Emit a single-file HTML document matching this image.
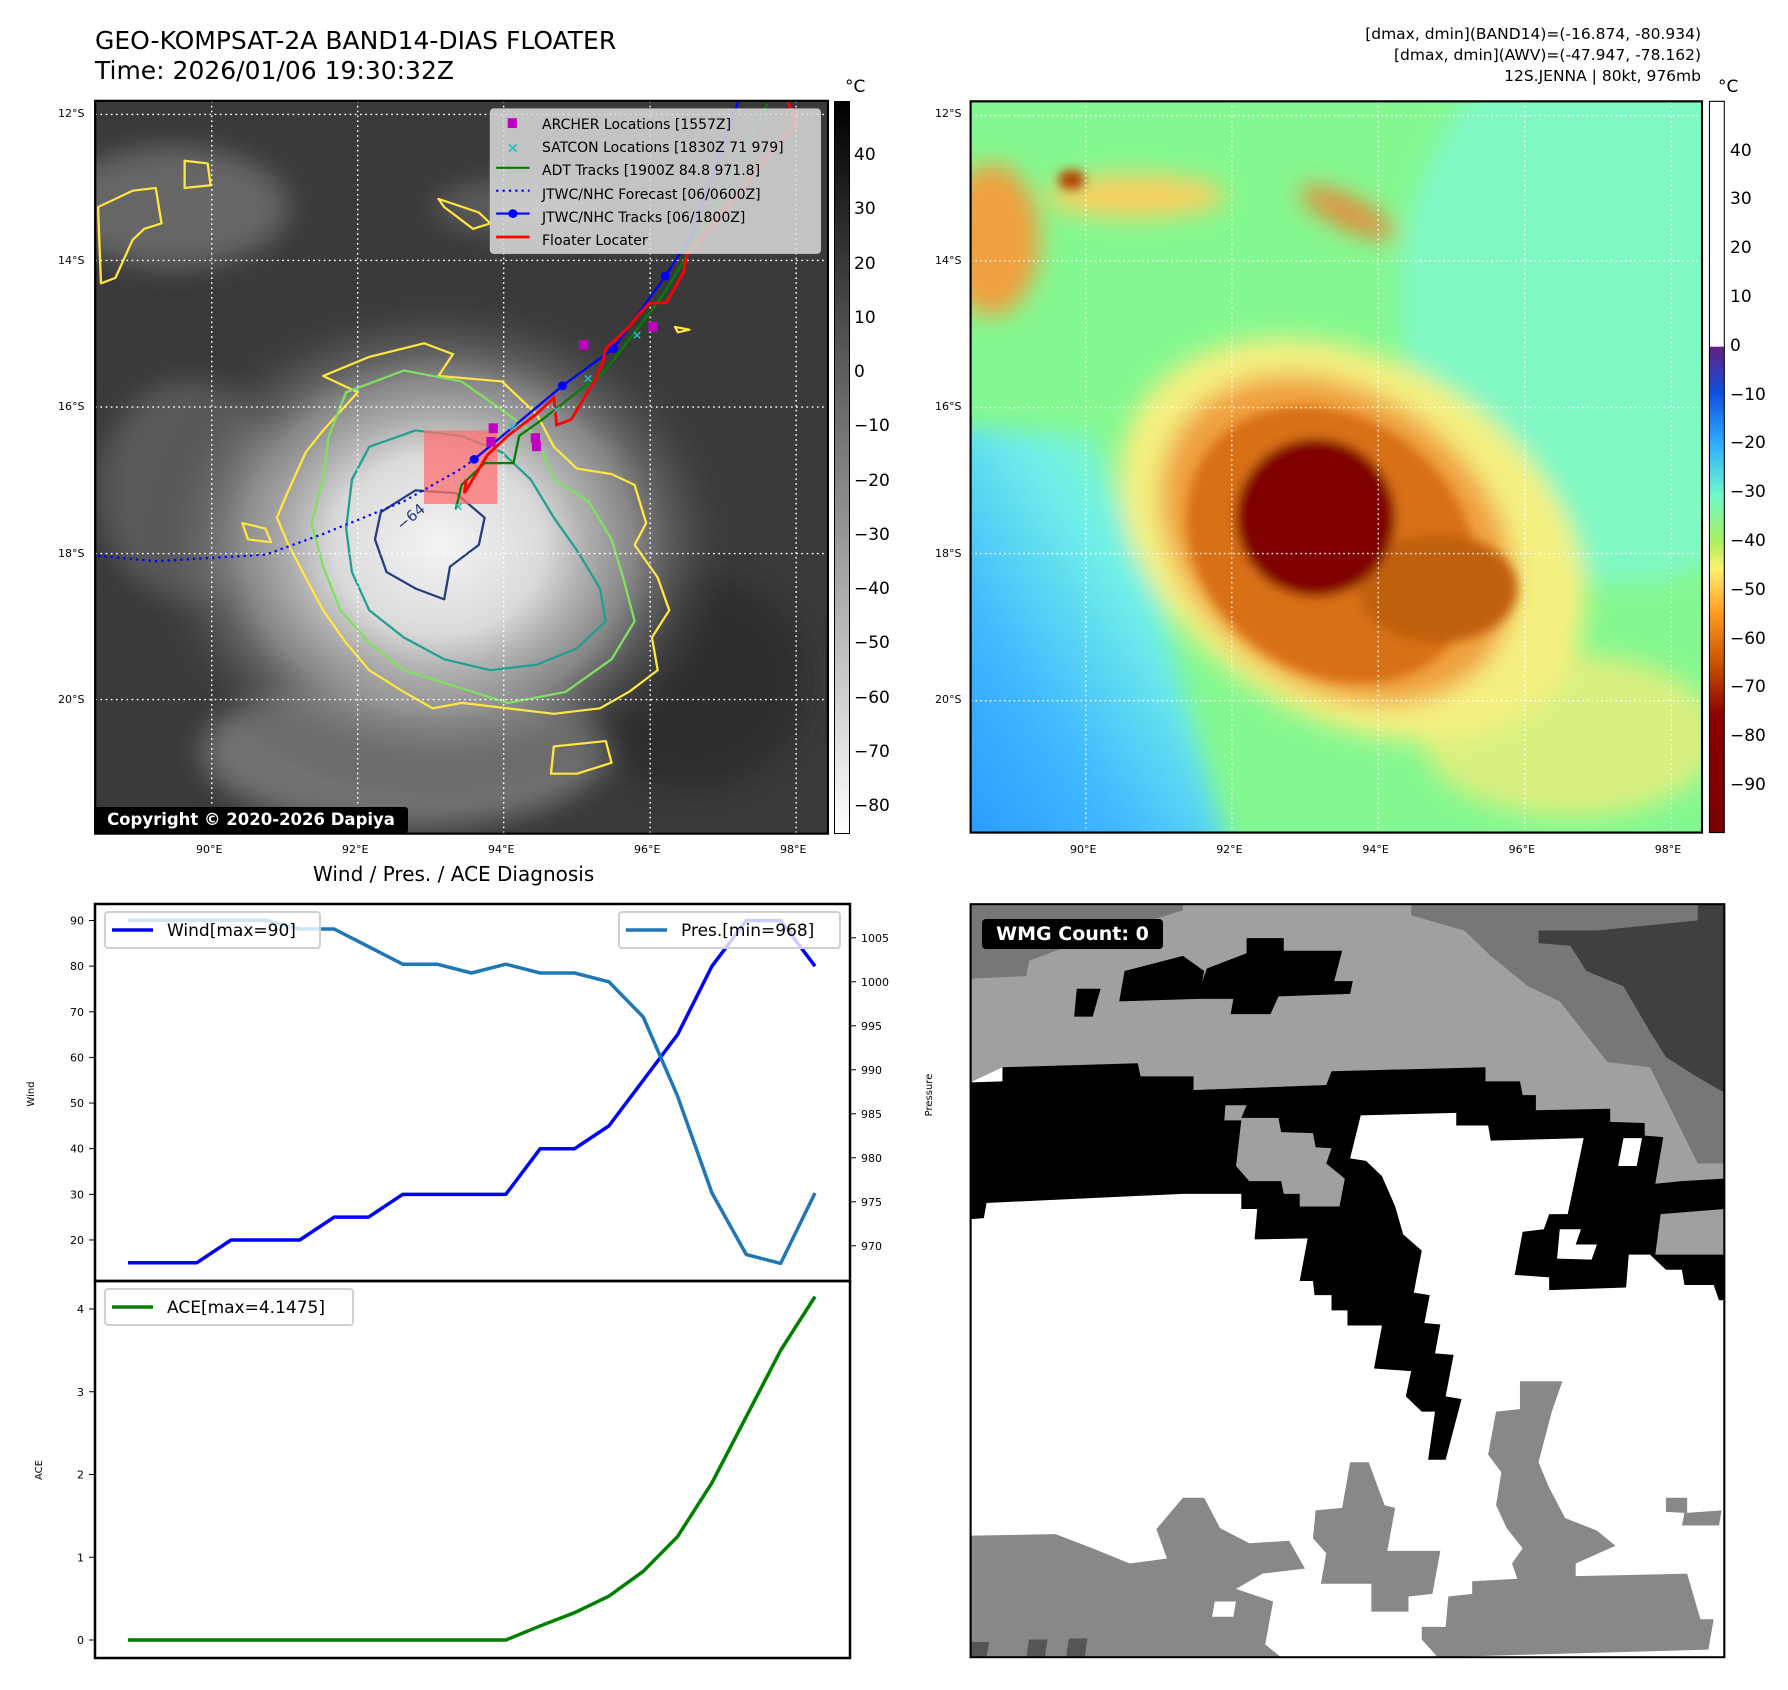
<!DOCTYPE html>
<html><head><meta charset="utf-8">
<style>
body{margin:0;background:#fff;width:1788px;height:1690px;position:relative;overflow:hidden;font-family:"DejaVu Sans","Liberation Sans",sans-serif;color:#000}
.a{position:absolute;white-space:nowrap}
.t{font-size:11px}
.cb{font-size:17px}
</style></head><body>
<div class="a" style="left:95px;top:26px;font-size:25px;line-height:30px">GEO-KOMPSAT-2A BAND14-DIAS FLOATER<br>Time: 2026/01/06 19:30:32Z</div>
<div class="a" style="right:87px;top:24px;font-size:15.5px;line-height:21px;text-align:right">[dmax, dmin](BAND14)=(-16.874, -80.934)<br>[dmax, dmin](AWV)=(-47.947, -78.162)<br>12S.JENNA | 80kt, 976mb</div>

<!-- LEFT MAP -->
<svg class="a" style="left:0;top:0" width="900" height="850" viewBox="0 0 1560 1560" preserveAspectRatio="none">
<defs>
<radialGradient id="storm" cx="0.5" cy="0.5" r="0.5"><stop offset="0" stop-color="#f4f4f4"/><stop offset="0.35" stop-color="#dadada"/><stop offset="0.65" stop-color="#9a9a9a" stop-opacity="0.8"/><stop offset="1" stop-color="#3c3c3c" stop-opacity="0"/></radialGradient>
<filter id="bl" x="-20%" y="-20%" width="140%" height="140%"><feGaussianBlur stdDeviation="25"/></filter>
<clipPath id="c1"><rect x="165" y="185" width="1270" height="1345"/></clipPath>
</defs>
<g clip-path="url(#c1)">
<rect x="165" y="185" width="1270" height="1345" fill="#3a3a3a"/>
<g filter="url(#bl)" opacity="0.7">
<ellipse cx="300" cy="380" rx="200" ry="110" fill="#7a7a7a"/>
<ellipse cx="900" cy="380" rx="150" ry="50" fill="#6a6a6a"/>
<ellipse cx="330" cy="900" rx="160" ry="200" fill="#686868"/>
<ellipse cx="700" cy="1380" rx="350" ry="140" fill="#8a8a8a"/>
<ellipse cx="1200" cy="1250" rx="200" ry="200" fill="#2c2c2c"/>
</g>
<ellipse cx="760" cy="1000" rx="520" ry="470" fill="url(#storm)"/>
<g fill="none" stroke-width="4" stroke-linejoin="round">
<path stroke="#ffe640" d="M560,690 L640,655 L735,630 L785,650 L760,690 L870,700 L930,760 L960,820 L1000,860 L1060,870 L1100,890 L1120,960 L1100,1000 L1140,1060 L1160,1120 L1130,1170 L1140,1230 L1090,1270 L1040,1300 L960,1310 L880,1300 L800,1290 L750,1300 L700,1270 L640,1230 L600,1180 L560,1120 L530,1060 L500,1000 L480,950 L500,900 L530,830 L560,790 L620,720 Z M420,960 L460,970 L470,995 L430,990 Z M960,1370 L1050,1360 L1060,1400 L1000,1420 L955,1420 Z M320,295 L360,300 L365,340 L320,345 Z M230,350 L270,345 L280,410 L250,420 L230,440 L200,510 L175,520 L170,380 Z M760,365 L830,390 L850,410 L820,420 L770,380 Z M1170,600 L1195,605 L1175,610 Z"/>
<path stroke="#80e060" d="M600,720 L700,680 L800,700 L880,760 L930,800 L960,880 L1020,920 L1060,990 L1080,1060 L1100,1140 L1060,1210 L980,1270 L880,1290 L790,1260 L700,1230 L640,1180 L590,1120 L560,1040 L540,960 L560,880 L570,800 Z"/>
<path stroke="#20a090" d="M640,820 L720,790 L800,800 L870,830 L920,880 L960,950 L1000,1010 L1040,1080 L1050,1140 L1000,1190 L930,1220 L850,1230 L770,1210 L700,1170 L640,1120 L610,1050 L600,970 L610,880 Z"/>
<path stroke="#283c80" d="M660,940 L720,900 L790,905 L840,950 L830,1000 L780,1040 L770,1100 L720,1080 L670,1050 L650,990 Z"/>
</g>
<g stroke="#fff" stroke-width="2.5" stroke-dasharray="3,6" fill="none">
<path d="M367,185V1530M620,185V1530M873,185V1530M1127,185V1530M1380,185V1530M165,210H1435M165,478H1435M165,747H1435M165,1016H1435M165,1284H1435"/>
</g>
<rect x="735" y="790" width="127" height="135" fill="#ff7070" opacity="0.75"/>
<polyline points="170,1020 270,1030 460,1018 560,980 700,920 800,860 822,843" fill="none" stroke="#0000ff" stroke-width="4" stroke-dasharray="4,7"/>
<polyline points="790,935 800,890 840,850 890,850 900,800 940,770 1000,720 1050,680 1100,610 1150,540 1190,470 1230,400 1330,190" fill="none" stroke="#008000" stroke-width="4"/>
<polyline points="822,843 975,708 1063,640 1153,507 1200,430 1280,185" fill="none" stroke="#0000ff" stroke-width="4"/>
<g fill="#0000ff"><circle cx="822" cy="843" r="8"/><circle cx="975" cy="708" r="8"/><circle cx="1063" cy="640" r="8"/><circle cx="1153" cy="507" r="8"/></g>
<polyline points="808,880 805,905 845,835 880,800 930,760 960,730 965,780 990,770 1030,700 1045,665 1050,640 1090,600 1105,580 1125,557 1155,555 1185,500 1190,470 1380,225 1365,185" fill="none" stroke="#ff0000" stroke-width="5"/>
<g fill="#c000c0"><rect x="847" y="777" width="16" height="18"/><rect x="843" y="802" width="16" height="18"/><rect x="920" y="795" width="16" height="18"/><rect x="922" y="810" width="16" height="18"/><rect x="1004" y="624" width="16" height="18"/><rect x="1124" y="591" width="16" height="18"/></g>
<g fill="#20c0c0" font-size="22" font-weight="bold"><text x="1095" y="622">×</text><text x="1010" y="702">×</text><text x="955" y="760">×</text><text x="880" y="790">×</text><text x="785" y="937">×</text></g>
</g>
<rect x="165" y="185" width="1270" height="1345" fill="none" stroke="#000" stroke-width="4"/>
<g>
<rect x="850" y="200" width="572" height="265" rx="6" fill="#dcdcdc" fill-opacity="0.85" stroke="#c8c8c8" stroke-width="2"/>
<rect x="880" y="217" width="16" height="18" fill="#c000c0"/>
<text x="878" y="280" fill="#20c0c0" font-size="26" font-weight="bold">×</text>
<line x1="860" y1="308" x2="918" y2="308" stroke="#008000" stroke-width="4"/>
<line x1="860" y1="350" x2="918" y2="350" stroke="#0000ff" stroke-width="4" stroke-dasharray="4,7"/>
<line x1="860" y1="392" x2="918" y2="392" stroke="#0000ff" stroke-width="4"/><circle cx="889" cy="392" r="8" fill="#0000ff"/>
<line x1="860" y1="435" x2="918" y2="435" stroke="#ff0000" stroke-width="5"/>
</g>
</svg>
<div class="a" style="left:542px;top:114px;font-size:14px;line-height:23.2px">ARCHER Locations [1557Z]<br>SATCON Locations [1830Z 71 979]<br>ADT Tracks [1900Z 84.8 971.8]<br>JTWC/NHC Forecast [06/0600Z]<br>JTWC/NHC Tracks [06/1800Z]<br>Floater Locater</div>
<div class="a" style="left:395px;top:508px;font-size:15px;color:#283c80;transform:rotate(-40deg)">−64</div>
<div class="a" style="left:94px;top:807px;width:314px;height:26px;background:#000;color:#fff;font-weight:bold;font-size:16.5px;line-height:26px;border-radius:3px;text-align:center">Copyright © 2020-2026 Dapiya</div>
<div class="a" style="left:834px;top:101px;width:14px;height:731px;border:1px solid #000;background:linear-gradient(#000,#fff)"></div>
<div class="a cb" style="left:845px;top:77px">°C</div>
<div id="lcb"></div>
<div id="maplabels"></div>

<!-- RIGHT MAP -->
<svg class="a" style="left:960px;top:0" width="828" height="850" viewBox="0 0 1560 1560" preserveAspectRatio="none">
<defs>
<filter id="bl2" x="-30%" y="-30%" width="160%" height="160%"><feGaussianBlur stdDeviation="22"/></filter>
<filter id="bl3" x="-30%" y="-30%" width="160%" height="160%"><feGaussianBlur stdDeviation="10"/></filter>
<linearGradient id="blue" x1="0" y1="1" x2="0.8" y2="0.2"><stop offset="0" stop-color="#2090ff"/><stop offset="0.45" stop-color="#40b8ff"/><stop offset="0.8" stop-color="#70f0e8"/><stop offset="1" stop-color="#80f8c0"/></linearGradient>
<linearGradient id="rcb" x1="0" y1="0" x2="0" y2="1"><stop offset="0" stop-color="#fff"/><stop offset="0.335" stop-color="#fff"/><stop offset="0.336" stop-color="#602080"/><stop offset="0.40" stop-color="#1050e0"/><stop offset="0.47" stop-color="#30b0ff"/><stop offset="0.54" stop-color="#70f8c8"/><stop offset="0.60" stop-color="#a8f060"/><stop offset="0.64" stop-color="#fff070"/><stop offset="0.70" stop-color="#ff9a20"/><stop offset="0.77" stop-color="#c85000"/><stop offset="0.84" stop-color="#8a0000"/><stop offset="1" stop-color="#7a0000"/></linearGradient>
<clipPath id="c2"><rect x="20" y="186" width="1378" height="1342"/></clipPath>
</defs>
<g clip-path="url(#c2)">
<rect x="20" y="186" width="1378" height="1342" fill="#84f890"/>
<g filter="url(#bl2)">
<ellipse cx="1250" cy="550" rx="420" ry="520" fill="#80f8c4"/>
<path d="M-60,780 L250,800 L360,1050 L430,1300 L520,1600 L-60,1600 Z" fill="url(#blue)"/>
<ellipse cx="1150" cy="1350" rx="280" ry="150" fill="#d8f080"/>
<ellipse cx="60" cy="440" rx="90" ry="140" fill="#f0a040"/>
<ellipse cx="330" cy="360" rx="170" ry="40" fill="#f8d060"/>
<ellipse cx="730" cy="390" rx="100" ry="30" fill="#e09040" transform="rotate(25 730 390)"/>
<ellipse cx="740" cy="990" rx="470" ry="330" fill="#f4f080" transform="rotate(30 740 990)"/>
<ellipse cx="710" cy="990" rx="360" ry="270" fill="#f0a040" transform="rotate(35 710 990)"/>
</g>
<g filter="url(#bl3)">
<ellipse cx="700" cy="1000" rx="290" ry="235" fill="#d87018" transform="rotate(35 700 1000)"/>
<ellipse cx="900" cy="1080" rx="150" ry="100" fill="#c06010"/>
<ellipse cx="670" cy="950" rx="150" ry="145" fill="#800000"/>
<ellipse cx="210" cy="330" rx="25" ry="18" fill="#b04000"/>
</g>
</g>
<g stroke="#fff" stroke-width="2.5" stroke-dasharray="3,6" fill="none">
<path d="M237,186V1528M512,186V1528M788,186V1528M1064,186V1528M1340,186V1528M20,212H1398M20,479H1398M20,748H1398M20,1016H1398M20,1286H1398"/>
</g>
<rect x="20" y="186" width="1378" height="1342" fill="none" stroke="#000" stroke-width="4"/>
<rect x="1412" y="186" width="28" height="1342" fill="url(#rcb)" stroke="#000" stroke-width="2"/>
</svg>
<div class="a cb" style="left:1718px;top:77px">°C</div>
<div id="rcbl"></div>

<!-- WMG PANEL -->
<svg class="a" style="left:960px;top:890px" width="828" height="790" viewBox="0 0 1560 1560" preserveAspectRatio="none">
<rect x="20" y="28" width="1420" height="1487" fill="#fff"/>
<path fill="#a0a0a0" d="M20,28 L1440,28 L1440,650 L1320,650 L1290,485 L1225,458 L1085,435 L1060,405 L990,378 L700,358 L690,385 L440,395 L340,368 L80,350 L20,380 Z"/>
<path fill="#777" d="M20,28 L420,28 L420,40 L180,120 L130,140 L125,170 L20,175 Z M850,28 L1440,28 L1440,540 L1390,540 L1300,350 L1220,340 L1130,220 L1070,190 L1000,130 L950,80 L850,50 Z"/>
<path fill="#404040" d="M1090,80 L1200,80 L1390,60 L1390,28 L1440,28 L1440,400 L1390,370 L1330,330 L1300,280 L1250,190 L1180,160 L1150,110 L1090,105 Z"/>
<path fill="#000" d="M20,380 L80,378 L80,350 L335,342 L340,368 L440,368 L440,395 L690,385 L700,358 L990,350 L990,378 L1055,378 L1060,405 L1085,405 L1085,435 L1225,432 L1225,458 L1290,460 L1290,485 L1325,488 L1310,580 L1360,575 L1440,570 L1440,810 L1430,810 L1420,780 L1365,780 L1360,750 L1330,750 L1300,720 L1260,720 L1255,785 L1110,790 L1110,765 L1045,760 L1060,675 L1100,670 L1110,640 L1145,640 L1175,490 L1000,495 L995,465 L935,465 L935,440 L755,445 L735,530 L765,535 L795,565 L820,625 L835,680 L870,712 L855,795 L885,800 L875,855 L905,858 L895,915 L930,918 L915,1000 L945,1005 L915,1125 L882,1125 L895,1030 L870,1030 L840,1000 L850,950 L780,945 L795,860 L730,860 L730,830 L700,830 L700,800 L668,800 L665,772 L640,772 L655,688 L555,690 L560,630 L530,630 L530,600 L420,600 L50,618 L45,648 L20,650 Z"/>
<path fill="#a0a0a0" d="M500,425 L540,425 L530,450 L600,450 L605,478 L665,480 L670,508 L700,510 L690,540 L725,570 L715,625 L640,625 L640,600 L610,600 L605,575 L545,575 L520,545 L530,455 L498,455 Z M1320,640 L1440,630 L1440,720 L1310,720 Z"/>
<path fill="#fff" d="M1250,490 L1285,490 L1275,545 L1240,545 Z M1130,670 L1170,670 L1160,700 L1200,700 L1190,730 L1125,728 Z"/>
<path fill="#000" d="M220,195 L265,195 L250,250 L215,250 Z M310,160 L420,130 L460,160 L450,215 L300,220 Z M540,95 L610,95 L610,120 L720,120 L705,180 L740,180 L735,205 L600,210 L585,245 L510,245 L515,215 L445,215 L465,155 L540,125 Z"/>
<path fill="#888" d="M20,1275 L180,1272 L250,1300 L320,1330 L390,1320 L370,1262 L420,1200 L460,1200 L490,1260 L545,1290 L620,1285 L650,1340 L570,1350 L520,1380 L590,1405 L575,1490 L605,1515 L20,1515 Z M735,1130 L770,1130 L800,1215 L820,1220 L805,1305 L905,1305 L890,1390 L845,1395 L845,1425 L775,1425 L775,1370 L680,1370 L690,1310 L665,1280 L670,1225 L720,1220 Z M1055,970 L1135,970 L1115,1030 L1090,1130 L1110,1180 L1140,1240 L1200,1265 L1235,1295 L1160,1330 L1160,1355 L1370,1350 L1395,1440 L1420,1440 L1410,1500 L900,1515 L870,1480 L870,1455 L915,1455 L920,1395 L965,1390 L965,1365 L1050,1360 L1040,1330 L1060,1300 L1030,1260 L1010,1215 L1020,1150 L995,1115 L1010,1030 L1055,1025 Z M1330,1200 L1370,1200 L1370,1230 L1435,1225 L1430,1255 L1360,1255 L1365,1230 L1330,1228 Z"/>
<path fill="#fff" d="M480,1405 L520,1405 L515,1435 L475,1435 Z"/>
<path fill="#555" d="M20,1485 L55,1485 L50,1515 L20,1515 Z M130,1480 L165,1480 L160,1515 L125,1515 Z M205,1478 L240,1478 L235,1515 L200,1515 Z"/>
<rect x="20" y="28" width="1420" height="1487" fill="none" stroke="#000" stroke-width="4"/>
</svg>
<div class="a" style="left:982px;top:919px;width:181px;height:30px;background:#000;color:#fff;font-weight:bold;font-size:19px;line-height:30px;text-align:center;border-radius:4px">WMG Count: 0</div>

<!-- DIAGNOSIS CHART -->
<div class="a" style="left:313px;top:862px;font-size:20px">Wind / Pres. / ACE Diagnosis</div>
<svg class="a" id="chart" style="left:0;top:0" width="960" height="1690"></svg>

<script>
const windVals=[15,15,15,20,20,20,25,25,30,30,30,30,40,40,45,55,65,80,90,90,80];
const presVals=[1007,1007,1007,1007,1007,1006,1006,1004,1002,1002,1001,1002,1001,1001,1000,996,987,976,969,968,976];
const aceVals=[0,0,0,0,0,0,0,0,0,0,0,0,0.17,0.33,0.53,0.83,1.25,1.9,2.7,3.5,4.15];
const windTicks=[20,30,40,50,60,70,80,90];
const presTicks=[970,975,980,985,990,995,1000,1005];
const aceTicks=[0,1,2,3,4];
const irTicks=[40,30,20,10,0,-10,-20,-30,-40,-50,-60,-70,-80];
const awvTicks=[40,30,20,10,0,-10,-20,-30,-40,-50,-60,-70,-80,-90];
const lonTicks=[90,92,94,96,98];
const latTicks=[12,14,16,18,20];

const NS='http://www.w3.org/2000/svg';
const svg=document.getElementById('chart');
const xS=i=>128+i*(815-128)/(windVals.length-1);
const yW=v=>920.5+(90-v)*4.564;
const yP=v=>937.8+(1005-v)*8.8;
const yA=v=>1640-v*82.75;
function el(tag,attrs,parent){const e=document.createElementNS(NS,tag);for(const k in attrs)e.setAttribute(k,attrs[k]);(parent||svg).appendChild(e);return e;}
function txt(x,y,s,anchor,size,parent){const t=el('text',{x:x,y:y,'text-anchor':anchor,'font-size':size,'font-family':'DejaVu Sans, Liberation Sans, sans-serif'},parent);t.textContent=s;return t;}

const f1=el('rect',{x:95,y:904,width:755,height:377,fill:'none',stroke:'#000','stroke-width':2.5});


const f2=el('rect',{x:95,y:1281,width:755,height:377,fill:'none',stroke:'#000','stroke-width':2.5});



windTicks.forEach(v=>{const y=yW(v);el('line',{x1:89,x2:95,y1:y,y2:y,stroke:'#000'});
 const t=txt(84,y+4,String(v),'end',11);
 
 });
presTicks.forEach(v=>{const y=yP(v);el('line',{x1:850,x2:856,y1:y,y2:y,stroke:'#000'});
 const t=txt(861,y+4,String(v),'start',11);
 
 });
aceTicks.forEach(v=>{const y=yA(v);el('line',{x1:89,x2:95,y1:y,y2:y,stroke:'#000'});
 const t=txt(84,y+4,String(v),'end',11);
 
 });

const yl1=txt(0,0,'Wind','middle',10);yl1.setAttribute('transform','translate(34,1094) rotate(-90)');


const yl2=txt(0,0,'Pressure','middle',10);yl2.setAttribute('transform','translate(932,1095) rotate(-90)');


const yl3=txt(0,0,'ACE','middle',10);yl3.setAttribute('transform','translate(42,1470) rotate(-90)');



function line(vals,yf,color,name){const pts=vals.map((v,i)=>xS(i)+','+yf(v)).join(' ');
 const p=el('polyline',{points:pts,fill:'none',stroke:color,'stroke-width':3.5,'stroke-linejoin':'round'});
 
 }
line(windVals,yW,'#0000ff','wind-line');
line(presVals,yP,'#1f77b4','pressure-line');
line(aceVals,yA,'#008000','ace-line');

function legend(x,y,w,label,color,name){const g=el('g',{});
 
 
 el('rect',{x:x,y:y,width:w,height:36,rx:3,fill:'#fff','fill-opacity':0.8,stroke:'#d0d0d0','stroke-width':2},g);
 el('line',{x1:x+7,x2:x+48,y1:y+18,y2:y+18,stroke:color,'stroke-width':3.5},g);
 txt(x+62,y+24,label,'start',17,g);}
legend(105,912,215,'Wind[max=90]','#0000ff','wind-legend');
legend(619,912,221,'Pres.[min=968]','#1f77b4','pressure-legend');
legend(105,1289,248,'ACE[max=4.1475]','#008000','ace-legend');

let h='';
irTicks.forEach(v=>{const y=156+(40-v)*5.425;h+='<div class="a cb" style="left:854px;top:'+(y-11)+'px">'+(v<0?'−'+(-v):v)+'</div>';});
document.getElementById('lcb').innerHTML=h;
h='';
awvTicks.forEach(v=>{const y=151.5+(40-v)*4.88;h+='<div class="a cb" style="left:1730px;top:'+(y-11)+'px">'+(v<0?'−'+(-v):v)+'</div>';});
document.getElementById('rcbl').innerHTML=h;
h='';
lonTicks.forEach(v=>{const x1=212+(v-90)*73, x2=1086+(v-90)*73.1;
 h+='<div class="a t" style="left:'+(x1-16)+'px;top:843px">'+v+'°E</div>';
 h+='<div class="a t" style="left:'+(x2-16)+'px;top:843px">'+v+'°E</div>';});
latTicks.forEach(v=>{const y=114+(v-12)*73.25;
 h+='<div class="a t" style="left:58px;top:'+(y-7)+'px">'+v+'°S</div>';
 h+='<div class="a t" style="left:935px;top:'+(y-7)+'px">'+v+'°S</div>';});
document.getElementById('maplabels').innerHTML=h;
</script>
</body></html>
